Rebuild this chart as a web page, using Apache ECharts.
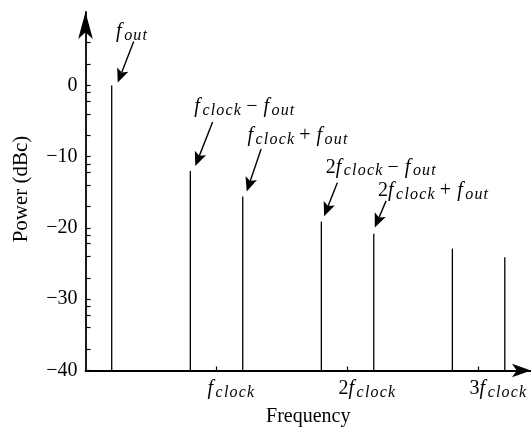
<!DOCTYPE html>
<html>
<head>
<meta charset="utf-8">
<script src="https://cdn.jsdelivr.net/npm/echarts@6/dist/echarts.min.js"></script>
<style>
  html, body { margin: 0; padding: 0; background: #ffffff; }
  #chart { width: 531px; height: 432px; }
</style>
</head>
<body>
<div id="chart"></div>
<script>
// Output spectrum of a DAC: the wanted tone and its images around the clock harmonics.
// Frequencies are in units of f_clock, power in dBc.
const freqs  = [0.2, 0.8, 1.2, 1.8, 2.2, 2.8, 3.2];
const powers = [0, -12.0, -15.6, -19.1, -20.8, -22.9, -24.1];

// Axis ticks and labels
const xTickValues = [1, 2, 3];
const xTickNames = [['', 'clock'], ['2', 'clock'], ['3', 'clock']];
const yLabelValues = [0, -10, -20, -30, -40];
const yTickValues = [6.0, 3.0, 0, -1.0, -2.2, -4.0, -7.0, -10, -11.0, -12.2, -14.0, -17.0,
                     -20, -21.0, -22.2, -24.0, -27.0, -30, -31.0, -32.2, -34.0, -37.0, -40];

// Which spectral lines carry a callout, and the callout text parts:
// [coefficient, subscript of first term, operator, subscript of second term]
const annotationLines = [0, 1, 2, 3, 4];
const annotationParts = [
  ['', 'out', '', ''],
  ['', 'clock', '\u2212', 'out'],
  ['', 'clock', '+', 'out'],
  ['2', 'clock', '\u2212', 'out'],
  ['2', 'clock', '+', 'out']
];

// Callout geometry in pixels relative to the top of its line:
// [tipDx, tipDy, tailDx, tailDy, textDx, textBaselineDy]
const annotationLayout = [
  [6.0, -2.8, 22.0, -43.8, 4.4, -47.0],
  [5.0, -4.9, 22.3, -48.9, 4.0, -57.1],
  [4.0, -5.2, 18.4, -47.6, 4.7, -53.9],
  [2.7, -5.3, 16.0, -38.7, 4.4, -47.5],
  [1.0, -6.2, 12.3, -32.8, 4.3, -36.2]
];

const FONT = 'Liberation Serif';
const MAIN = 20, SUB = 16, LINE = 24;
const BASELINE = LINE / 2 + 0.3375 * MAIN;   // baseline of the main glyphs below the text top
const Y_MIN = -40, Y_MAX = 10.3;
const X_MIN = 0, X_MAX = 3.4;

// math-style text: italic f with an italic subscript, spaced like typeset math
function subTokens(word) {
  return word.split('').map(ch => '{s|' + ch + '}').join('');
}
function mathTerm(coef, sub) {
  return (coef ? '{n|' + coef + '}' : '') + '{m|f}' + subTokens(sub);
}
function mathText(parts) {
  let t = mathTerm(parts[0], parts[1]);
  if (parts[2]) t += '{op|' + parts[2] + '}' + mathTerm('', parts[3]);
  return t;
}

function richStyles(colorKey) {
  const c = {}; c[colorKey] = '#000';
  return {
    m:  Object.assign({ fontFamily: FONT, fontStyle: 'italic', fontSize: MAIN, lineHeight: LINE, padding: [0, 2.5, 0, 0] }, c),
    s:  Object.assign({ fontFamily: FONT, fontStyle: 'italic', fontSize: SUB, lineHeight: 15, verticalAlign: 'bottom', padding: [0, 1.2, 0, 0] }, c),
    n:  Object.assign({ fontFamily: FONT, fontSize: MAIN, lineHeight: LINE }, c),
    op: Object.assign({ fontFamily: FONT, fontSize: MAIN, lineHeight: LINE, padding: [0, 6, 0, 4] }, c)
  };
}
const rich = richStyles('color');
const zrRich = richStyles('fill');

const chart = echarts.init(document.getElementById('chart'), null, { renderer: 'canvas' });

const spikeData = freqs.map((f, i) => [f, powers[i]]);
const annotationData = annotationLines.map(k => [freqs[k], powers[k]]);

chart.setOption({
  animation: false,
  backgroundColor: '#ffffff',
  grid: { left: 85.5, right: 0, top: 12, bottom: 60.3, containLabel: false },
  xAxis: {
    type: 'value',
    min: X_MIN,
    max: X_MAX,
    name: 'Frequency',
    nameLocation: 'middle',
    nameGap: 36.5,
    nameTextStyle: { fontFamily: FONT, fontSize: 20, color: '#000' },
    axisLine: {
      show: true, onZero: false,
      symbol: ['none', 'arrow'], symbolSize: [10, 19],
      lineStyle: { color: '#000', width: 1.8 }
    },
    axisTick: { show: true, inside: true, length: 4, customValues: xTickValues,
                lineStyle: { color: '#000', width: 1.2 } },
    axisLabel: {
      show: true,
      customValues: xTickValues,
      align: 'left',
      margin: 6.5,
      padding: [0, 0, 0, -9],
      formatter: v => {
        const k = xTickValues.indexOf(Math.round(v));
        return k < 0 ? '' : mathTerm(xTickNames[k][0], xTickNames[k][1]);
      },
      rich: rich
    },
    splitLine: { show: false }
  },
  yAxis: {
    type: 'value',
    min: Y_MIN,
    max: Y_MAX,
    axisLine: {
      show: true, onZero: false,
      symbol: ['none', 'arrow'], symbolSize: [11, 27],
      lineStyle: { color: '#000', width: 1.8 }
    },
    axisTick: { show: true, inside: true, length: 5, customValues: yTickValues,
                lineStyle: { color: '#000', width: 1.2 } },
    axisLabel: {
      show: true,
      customValues: yLabelValues,
      margin: 8,
      fontFamily: FONT,
      fontSize: 20,
      color: '#000',
      formatter: v => (v < 0 ? '\u2212' + Math.abs(v) : String(v))
    },
    splitLine: { show: false }
  },
  graphic: [{
    type: 'text',
    x: 21.6,
    y: 189,
    rotation: Math.PI / 2,
    style: {
      text: 'Power (dBc)',
      fontFamily: FONT,
      fontSize: 21,
      fill: '#000',
      align: 'center',
      verticalAlign: 'middle'
    }
  }],
  series: [
    {
      // vertical spectral lines rising from the bottom of the axis
      type: 'custom',
      clip: false,
      data: spikeData,
      renderItem: (params, api) => {
        const f = api.value(0);
        const base = api.coord([f, Y_MIN]);
        const top = api.coord([f, api.value(1)]);
        return {
          type: 'line',
          shape: { x1: base[0], y1: base[1], x2: top[0], y2: top[1] },
          style: { stroke: '#000', lineWidth: 1.3 }
        };
      }
    },
    {
      // callouts: label plus arrow pointing at the top of a line
      type: 'custom',
      clip: false,
      data: annotationData,
      renderItem: (params, api) => {
        const i = params.dataIndex;
        const p = api.coord([api.value(0), api.value(1)]);
        const L = annotationLayout[i];
        const tip = [p[0] + L[0], p[1] + L[1]];
        const tail = [p[0] + L[2], p[1] + L[3]];
        const dx = tip[0] - tail[0], dy = tip[1] - tail[1];
        const len = Math.hypot(dx, dy);
        const ux = dx / len, uy = dy / len;
        const nx = -uy, ny = ux;
        const hl = 14, hw = 6;
        const bx = tip[0] - ux * hl, by = tip[1] - uy * hl;
        const notch = [tip[0] - ux * hl * 0.78, tip[1] - uy * hl * 0.78];
        return {
          type: 'group',
          children: [
            {
              type: 'line',
              shape: { x1: tail[0], y1: tail[1], x2: notch[0], y2: notch[1] },
              style: { stroke: '#000', lineWidth: 1.4 }
            },
            {
              type: 'polygon',
              shape: { points: [tip, [bx + nx * hw, by + ny * hw], notch, [bx - nx * hw, by - ny * hw]] },
              style: { fill: '#000' }
            },
            {
              type: 'text',
              x: p[0] + L[4],
              y: p[1] + L[5] - BASELINE,
              style: {
                text: mathText(annotationParts[i]),
                rich: zrRich,
                fill: '#000',
                align: 'left',
                verticalAlign: 'top'
              }
            }
          ]
        };
      }
    }
  ]
});
</script>
</body>
</html>
